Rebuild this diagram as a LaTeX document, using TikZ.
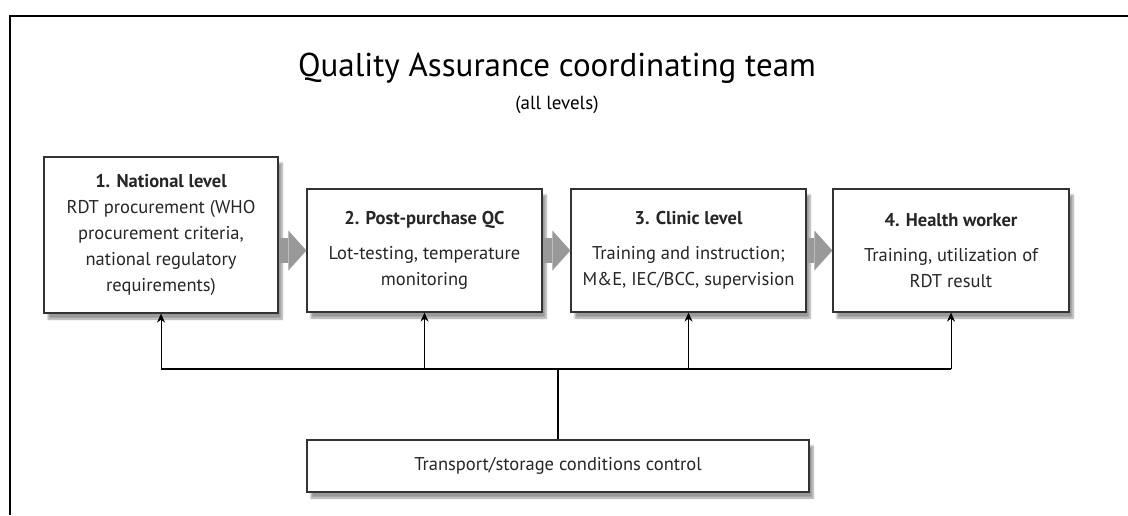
\documentclass[tikz,border=0pt]{standalone}
\usepackage{fontspec}
\setmainfont{PT Sans}
\usetikzlibrary{arrows.meta,shadows.blur}
\begin{document}
\begin{tikzpicture}
  [x=1pt,y=-1pt,
   qbox/.style={draw=black!80,line width=1.2pt,fill=white,align=center,text=black!85,
     font=\fontsize{18.5}{26}\selectfont,inner sep=0pt,
     blur shadow={shadow xshift=4pt,shadow yshift=-6pt,shadow blur steps=8}},
   flow/.style={line width=25pt,black!40,-{Triangle[length=18pt,width=40pt,line width=0pt]}},
   up/.style={line width=1pt,-{Stealth[length=9pt,width=8pt]}}]
  \useasboundingbox (0,0) rectangle (1128,515);
  \draw[line width=1.5pt] (10,515) -- (10,16) -- (1128,16);
  \node (title) at (557,68) {\fontsize{33}{38}\selectfont Quality Assurance coordinating team};
  \node (sub) at (557,105) {\fontsize{19}{24}\selectfont (all levels)};
  \node[qbox,minimum width=234,minimum height=156] (b1) at (161,235)
    {\textbf{1. National level}\\RDT procurement (WHO\\procurement criteria,\\national regulatory\\requirements)};
  \node[qbox,minimum width=235,minimum height=123] (b2) at (424.5,250.5)
    {\textbf{2. Post-purchase QC}\\[9pt]Lot-testing, temperature\\monitoring};
  \node[qbox,minimum width=235,minimum height=123] (b3) at (688.5,250.5)
    {\textbf{3. Clinic level}\\[9pt]Training and instruction;\\M\&E, IEC/BCC, supervision};
  \node[qbox,minimum width=236,minimum height=123] (b4) at (951,250.5)
    {\textbf{4. Health worker}\\[9pt]Training, utilization of\\RDT result};
  \node[qbox,minimum width=502,minimum height=52] (b5) at (558,466)
    {Transport/storage conditions control};
  \coordinate (bus) at (557,369);

  \foreach \from/\to in {b1/b2,b2/b3,b3/b4}
    \draw[flow] (\from.east |- \to.west) -- (\to.west);
  \foreach \b in {b1,b2,b3,b4}
    \draw[up] (\b.south |- bus) -- (\b.south);
  \draw[line width=2pt] (b1.south |- bus) -- (b4.south |- bus);
  \draw[line width=2pt] (b5.north |- bus) -- (b5.north);
\end{tikzpicture}
\end{document}
